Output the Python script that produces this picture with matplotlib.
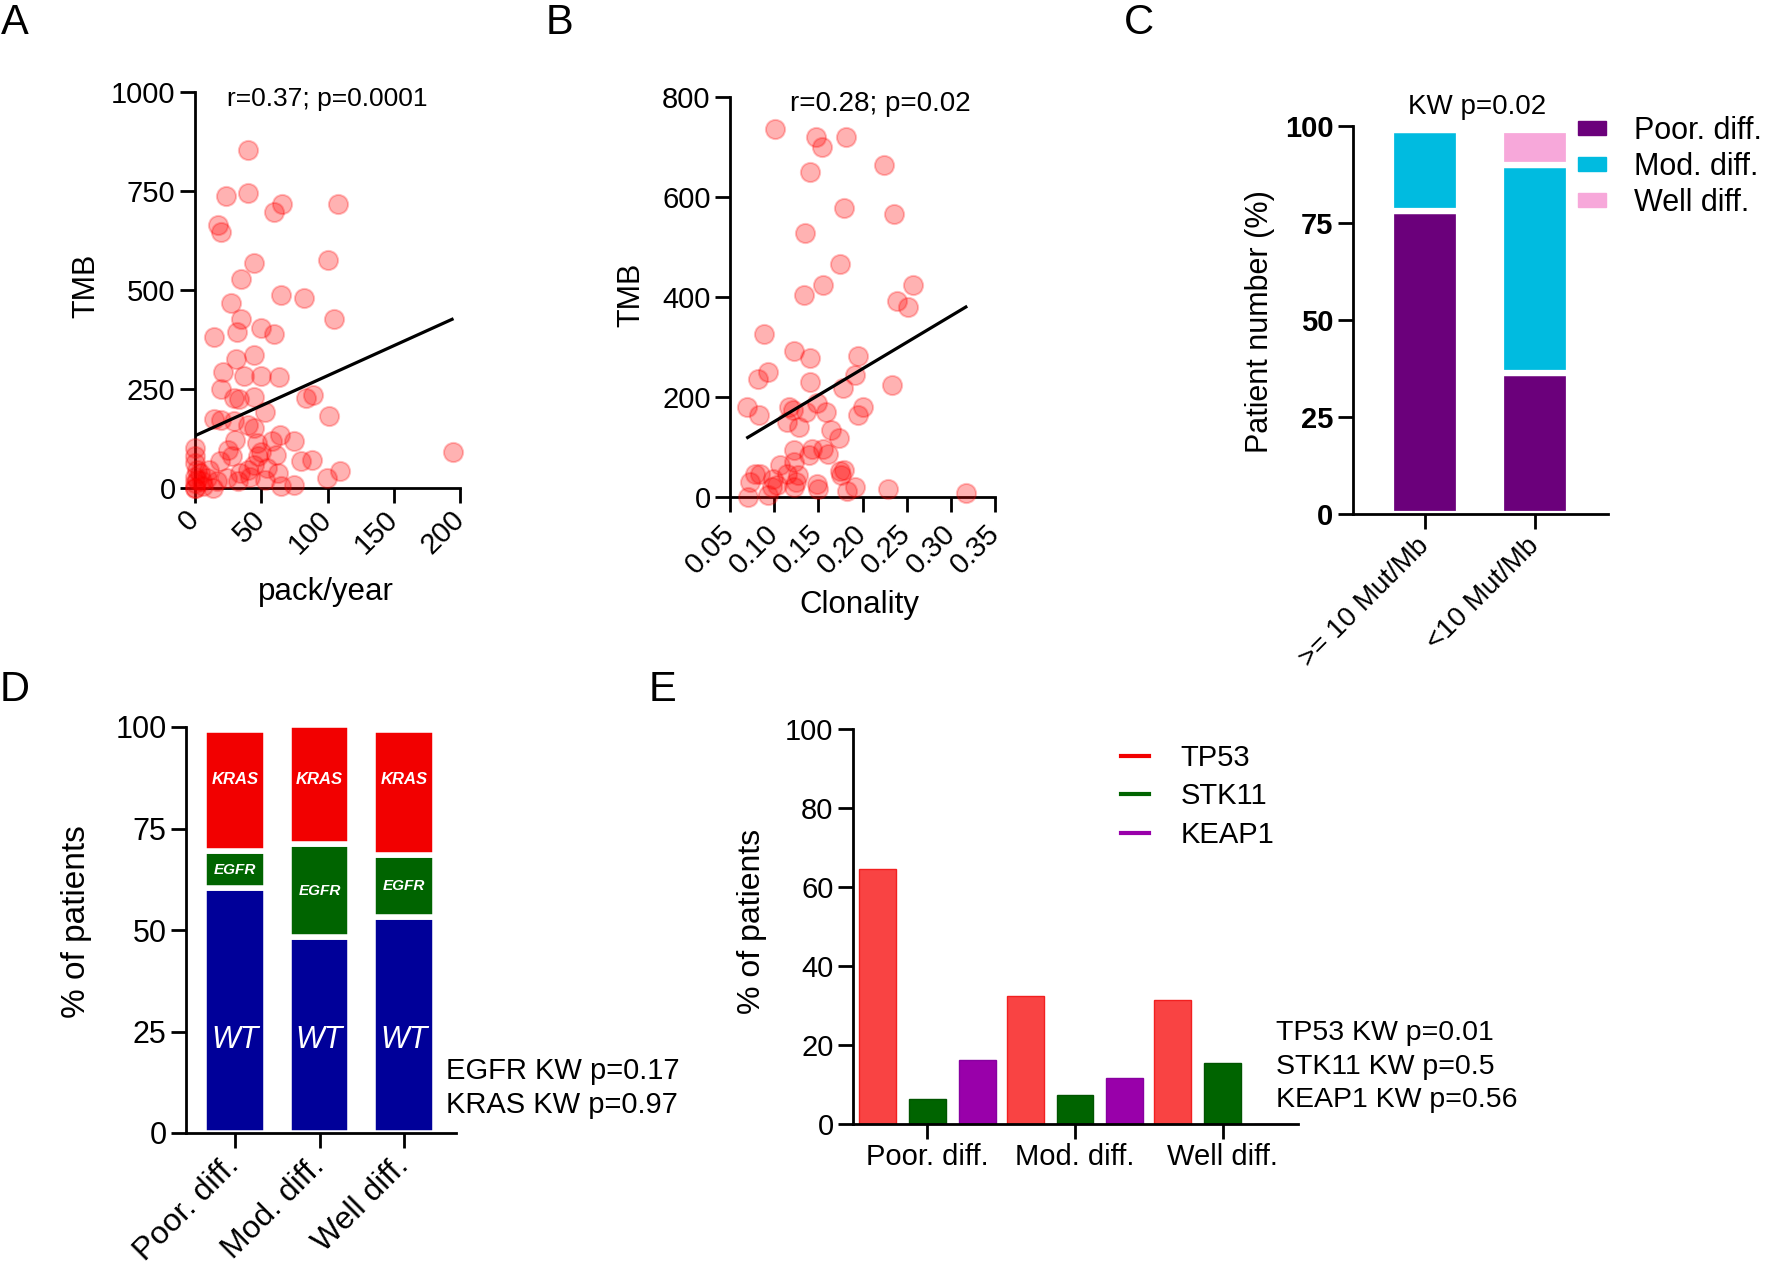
import numpy as np
import matplotlib.pyplot as plt
from matplotlib.patches import Patch
from matplotlib.lines import Line2D

W, H = 1772, 1268

# A: TMB vs smoking (pack/year)
packyear = [39.7, 23.1, 39.7, 59.9, 65.9, 108.2, 17.1, 19.6, 44.8, 100.1,
            34.7, 26.9, 64.9, 82.5, 34.7, 104.7, 14.6, 31.9, 49.8, 59.9,
            30.9, 44.8, 20.9, 37.2, 49.8, 63.6, 19.4, 29.7, 33.5, 44.8,
            52.8, 83.8, 88.8, 101.4, 194.5, 14.6, 19.6, 29.7, 39.7, 44.8,
            64.2, 74.7, 0, 25.2, 27.7, 49.8, 47.8, 61.1, 80, 88,
            109.4, 99.4, 39.7, 44.8, 41.5, 62.4, 75, 64.9, 10.8, 16.4,
            32.2, 52.8, 34, 23.9, 0, 0, 1.3, 3.8, 6.3, 8.8,
            0, 1.3, 13.8, 0, 0, 5, 0, 46.5, 58, 30, 19, 54]
tmb_a = [853, 737, 745, 697, 718, 718, 664, 647, 567, 577,
         528, 468, 487, 479, 426, 426, 381, 395, 403, 389,
         326, 336, 292, 284, 282, 280, 250, 227, 224, 229,
         193, 227, 235, 181, 92, 175, 172, 168, 160, 151,
         134, 119, 100, 97, 80, 92, 80, 84, 67, 71,
         42, 25, 46, 59, 29, 38, 7, 4, 46, 17,
         17, 21, 38, 25, 29, 13, 21, 38, 4, 25,
         63, 46, 0, 0, 0, 17, 80, 113, 118, 122, 67, 50]
fit_a_x = [0, 194]
fit_a_y = [132, 426]

# B: TMB vs clonality
clonality = [0.101, 0.147, 0.154, 0.181, 0.141, 0.224, 0.179, 0.236, 0.135, 0.175,
             0.155, 0.134, 0.257, 0.239, 0.251, 0.088, 0.123, 0.141, 0.195, 0.093,
             0.082, 0.141, 0.191, 0.178, 0.233, 0.069, 0.083, 0.117, 0.121, 0.148,
             0.159, 0.136, 0.114, 0.128, 0.195, 0.200, 0.164, 0.173, 0.122, 0.139,
             0.143, 0.155, 0.161, 0.175, 0.179, 0.176, 0.078, 0.084, 0.073, 0.099,
             0.107, 0.114, 0.122, 0.127, 0.097, 0.103, 0.122, 0.125, 0.148, 0.150,
             0.093, 0.070, 0.182, 0.192, 0.229, 0.317]
tmb_b = [736, 721, 700, 721, 650, 664, 578, 567, 528, 467,
         425, 405, 424, 393, 380, 326, 292, 279, 282, 251,
         237, 230, 245, 218, 225, 181, 165, 181, 175, 188,
         171, 171, 151, 141, 165, 181, 134, 118, 94, 84,
         97, 97, 87, 52, 55, 44, 47, 47, 30, 37,
         64, 47, 71, 44, 20, 24, 20, 30, 27, 17,
         5, 0, 13, 20, 17, 8]
fit_b_x = [0.07, 0.317]
fit_b_y = [119, 380]

# C: differentiation by TMB group
tmb_groups = ['>= 10 Mut/Mb', '<10 Mut/Mb']
c_poor = [78.2, 36.3]
c_mod = [20.8, 53.6]
c_well = [0.0, 9.1]

# D: driver status by differentiation
diff_groups = ['Poor. diff.', 'Mod. diff.', 'Well diff.']
d_wt = [60.4, 48.3, 53.3]
d_egfr = [9.0, 22.8, 15.2]
d_kras = [29.9, 29.4, 30.8]
d_pvals = ['EGFR KW p=0.17', 'KRAS KW p=0.97']

# E: co-mutations by differentiation
e_tp53 = [64.5, 32.5, 31.4]
e_stk11 = [6.3, 7.4, 15.4]
e_keap1 = [16.3, 11.6, 0.0]
e_pvals = ['TP53 KW p=0.01', 'STK11 KW p=0.5', 'KEAP1 KW p=0.56']

plt.rcParams['font.family'] = ['Liberation Sans', 'DejaVu Sans']


def add_axes_px(fig, left, top, right, bottom):
    return fig.add_axes([left / W, 1 - bottom / H, (right - left) / W, (bottom - top) / H])


def style_axes(ax, size):
    for s in ['top', 'right']:
        ax.spines[s].set_visible(False)
    for s in ['left', 'bottom']:
        ax.spines[s].set_linewidth(2)
    ax.tick_params(width=2, length=10.5, labelsize=size, color='black')


def rotate_xticks(ax, pad):
    ax.tick_params(axis='x', pad=pad)
    for lab in ax.get_xticklabels():
        lab.set_rotation(45)
        lab.set_ha('right')
        lab.set_va('center')
        lab.set_rotation_mode('anchor')


fig = plt.figure(figsize=(W / 100, H / 100), dpi=100)

# ---- A ----
ax = add_axes_px(fig, 195, 92, 460, 488)
style_axes(ax, 21)
ax.scatter(packyear, tmb_a, s=190, facecolor=(1, 0, 0, 0.3), edgecolor=(1, 0, 0, 0.25),
           linewidth=1.5, clip_on=False, zorder=3)
ax.plot(fit_a_x, fit_a_y, color='black', lw=2.3, zorder=4)
ax.set_xlim(0, 200)
ax.set_ylim(0, 1000)
ax.set_xticks([0, 50, 100, 150, 200])
ax.set_yticks([0, 250, 500, 750, 1000])
rotate_xticks(ax, 9)
ax.set_ylabel('TMB', fontsize=22, va='center')
ax.yaxis.set_label_coords(-0.411, 0.51)
ax.set_xlabel('pack/year', fontsize=22.5, va='center')
ax.xaxis.set_label_coords(0.494, -0.262)
ax.text(24.2, 982, 'r=0.37; p=0.0001', fontsize=19, va='center', ha='left')

# ---- B ----
ax = add_axes_px(fig, 730, 97, 995, 497)
style_axes(ax, 21)
ax.scatter(clonality, tmb_b, s=190, facecolor=(1, 0, 0, 0.3), edgecolor=(1, 0, 0, 0.25),
           linewidth=1.5, clip_on=False, zorder=3)
ax.plot(fit_b_x, fit_b_y, color='black', lw=2.3, zorder=4)
ax.set_xlim(0.05, 0.35)
ax.set_ylim(0, 800)
ax.set_xticks([0.05, 0.10, 0.15, 0.20, 0.25, 0.30, 0.35])
ax.set_xticklabels(['%.2f' % v for v in ax.get_xticks()])
ax.set_yticks([0, 200, 400, 600, 800])
rotate_xticks(ax, 13)
ax.set_ylabel('TMB', fontsize=22, va='center')
ax.yaxis.set_label_coords(-0.374, 0.505)
ax.set_xlabel('Clonality', fontsize=22.5, va='center')
ax.xaxis.set_label_coords(0.49, -0.27)
ax.text(0.118, 786, 'r=0.28; p=0.02', fontsize=20, va='center', ha='left')

# ---- C ----
ax = add_axes_px(fig, 1353, 126, 1608, 514)
style_axes(ax, 21)
xc = np.arange(len(tmb_groups))
ax.bar(xc, c_poor, width=0.62, color='#6B007B', edgecolor='white', linewidth=4.5)
ax.bar(xc, c_mod, width=0.62, bottom=c_poor, color='#00BBE0', edgecolor='white', linewidth=4.5)
ax.bar(xc, c_well, width=0.62, bottom=np.add(c_poor, c_mod), color='#F7A8DA',
       edgecolor='white', linewidth=4.5)
ax.set_xlim(-0.655, 1.66)
ax.set_ylim(0, 100)
ax.set_yticks([0, 25, 50, 75, 100])
ax.set_xticks(xc, tmb_groups, fontsize=20)
for lab in ax.get_yticklabels():
    lab.set_fontweight('bold')
rotate_xticks(ax, 10)
ax.set_ylabel('Patient number (%)', fontsize=22, va='center')
ax.yaxis.set_label_coords(-0.365, 0.495)
ax.text(0.473, 105, 'KW p=0.02', fontsize=20, ha='center', va='center', clip_on=False)
handles = [Patch(color='#6B007B'), Patch(color='#00BBE0'), Patch(color='#F7A8DA')]
ax.legend(handles, ['Poor. diff.', 'Mod. diff.', 'Well diff.'], fontsize=22,
          loc='upper left', bbox_to_anchor=(1578 / W, 1 - 116 / H),
          bbox_transform=fig.transFigure, frameon=False, borderpad=0, borderaxespad=0,
          handlelength=0.92, handleheight=0.33, handletextpad=0.9, labelspacing=0.2)

# ---- D ----
ax = add_axes_px(fig, 186, 727, 456, 1133)
style_axes(ax, 22)
xd = np.arange(len(diff_groups))
bot_egfr = np.array(d_wt)
bot_kras = bot_egfr + np.array(d_egfr)
ax.bar(xd, d_wt, width=0.73, color='#000099', edgecolor='white', linewidth=4)
ax.bar(xd, d_egfr, width=0.73, bottom=bot_egfr, color='#006400', edgecolor='white', linewidth=4)
ax.bar(xd, d_kras, width=0.73, bottom=bot_kras, color='#F20000', edgecolor='white', linewidth=4)
for i in xd:
    ax.text(i, 87, 'KRAS', color='white', fontsize=12,
            fontweight='bold', fontstyle='italic', ha='center', va='center')
    ax.text(i, bot_egfr[i] + d_egfr[i] / 2, 'EGFR', color='white', fontsize=11,
            fontweight='bold', fontstyle='italic', ha='center', va='center')
    ax.text(i, 23, 'WT', color='white', fontsize=22, fontstyle='italic',
            ha='center', va='center')
ax.set_xlim(-0.58, 2.615)
ax.set_ylim(0, 100)
ax.set_yticks([0, 25, 50, 75, 100])
ax.set_xticks(xd, diff_groups, fontsize=23)
rotate_xticks(ax, 10)
ax.set_ylabel('% of patients', fontsize=24, va='center')
ax.yaxis.set_label_coords(-0.406, 0.522)
for txt, yv in zip(d_pvals, [15.3, 6.9]):
    ax.text(2.497, yv, txt, fontsize=21, ha='left', va='center', clip_on=False)

# ---- E ----
ax = add_axes_px(fig, 853, 729, 1298, 1124)
style_axes(ax, 21)
xe = np.arange(len(diff_groups))
ax.bar(xe - 0.338, e_tp53, width=0.25, color='#F94343', edgecolor='#F22020', linewidth=1)
ax.bar(xe, e_stk11, width=0.25, color='#006400', edgecolor='#005500', linewidth=1)
ax.bar(xe + 0.338, e_keap1, width=0.25, color='#9900AA', edgecolor='#8800A0', linewidth=1)
ax.set_xlim(-0.503, 2.51)
ax.set_ylim(0, 100)
ax.set_yticks([0, 20, 40, 60, 80, 100])
ax.set_xticks(xe, diff_groups, fontsize=21)
ax.set_ylabel('% of patients', fontsize=23, va='center')
ax.yaxis.set_label_coords(-0.226, 0.514)
for txt, yv in zip(e_pvals, [23.0, 14.4, 6.1]):
    ax.text(2.36, yv, txt, fontsize=20.5, ha='left', va='center', clip_on=False)
lh = [Line2D([0], [0], color='#F20000', lw=3),
      Line2D([0], [0], color='#006400', lw=3),
      Line2D([0], [0], color='#9900AA', lw=3)]
ax.legend(lh, ['TP53', 'STK11', 'KEAP1'], fontsize=21, loc='upper left',
          bbox_to_anchor=(1121 / W, 1 - 744 / H), bbox_transform=fig.transFigure,
          frameon=False, borderpad=0, borderaxespad=0, handlelength=0.97,
          handletextpad=1.07, labelspacing=0.36)

# panel letters
for letter, xp, yp in [('A', 1, 34), ('B', 546, 34), ('C', 1124, 34),
                       ('D', 0, 701), ('E', 649, 701)]:
    fig.text(xp / W, 1 - yp / H, letter, fontsize=30, ha='left', va='baseline')

fig.savefig('out.png', dpi=100)
